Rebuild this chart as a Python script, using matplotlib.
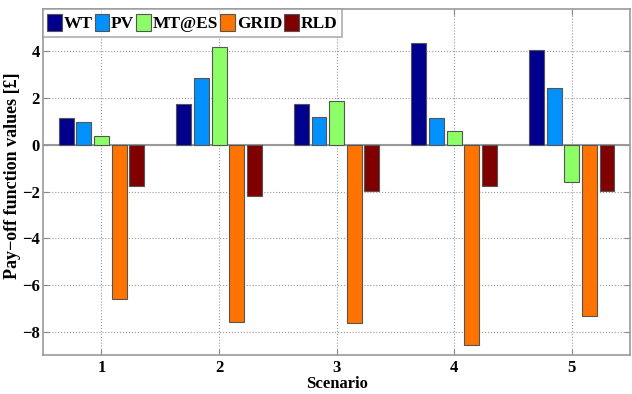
import numpy as np
import matplotlib.pyplot as plt

# datos
escenarios = [1, 2, 3, 4, 5]
series = ['WT', 'PV', 'MT@ES', 'GRID', 'RLD']
wt = [1.13, 1.74, 1.77, 4.36, 4.06]
pv = [0.96, 2.87, 1.20, 1.17, 2.43]
mt = [0.37, 4.19, 1.87, 0.59, -1.60]
grid = [-6.61, -7.59, -7.61, -8.59, -7.33]
rld = [-1.76, -2.19, -1.96, -1.76, -1.99]
colores = ['#00008C', '#0091FF', '#8CFF66', '#FF7300', '#800000']

plt.rcParams['font.family'] = ['Liberation Serif', 'DejaVu Serif']
plt.rcParams['font.weight'] = 'bold'

fig = plt.figure(figsize=(6.32, 3.94), dpi=100)
ax = fig.add_axes([0.0676, 0.099, 0.930, 0.877])

x = np.array(escenarios)
ancho = 0.127
offsets = [-0.3, -0.15, 0.0, 0.15, 0.3]
for vals, nombre, c, off in zip([wt, pv, mt, grid, rld], series, colores, offsets):
    ax.bar(x + off, vals, ancho, color=c, edgecolor='#555555', linewidth=0.8,
           label=nombre, zorder=3)

ax.axhline(0, color='#999999', linewidth=1.5, zorder=2)
ax.set_xlim(0.5, 5.5)
ax.set_ylim(-9, 5.8)
ax.set_xticks(escenarios)
ax.set_yticks([-8, -6, -4, -2, 0, 2, 4])
ax.set_yticklabels(['\u22128', '\u22126', '\u22124', '\u22122', '0', '2', '4'])
ax.grid(True, linestyle=':', color='#999999', linewidth=0.8, zorder=0)
ax.tick_params(direction='in', top=True, right=True, labelsize=12, colors='#888888',
               labelcolor='black', length=4)
ax.tick_params(axis='y', pad=2)
for s in ax.spines.values():
    s.set_color('#999999')
    s.set_linewidth(1.2)

ax.set_xlabel('Scenario', fontsize=12, fontweight='bold', labelpad=0)
ax.set_ylabel('Pay\u2212off function values [£]', fontsize=13, fontweight='bold')
ax.yaxis.set_label_coords(-0.037, 0.52)

leg = ax.legend(loc='upper left', ncol=5, fontsize=12.5, frameon=True, fancybox=False,
                borderaxespad=0, handlelength=0.85, handleheight=1.15, handletextpad=0.1,
                columnspacing=0.12, borderpad=0.25, edgecolor='#999999')
leg.get_frame().set_linewidth(1.2)

plt.savefig('out.png', dpi=100)
